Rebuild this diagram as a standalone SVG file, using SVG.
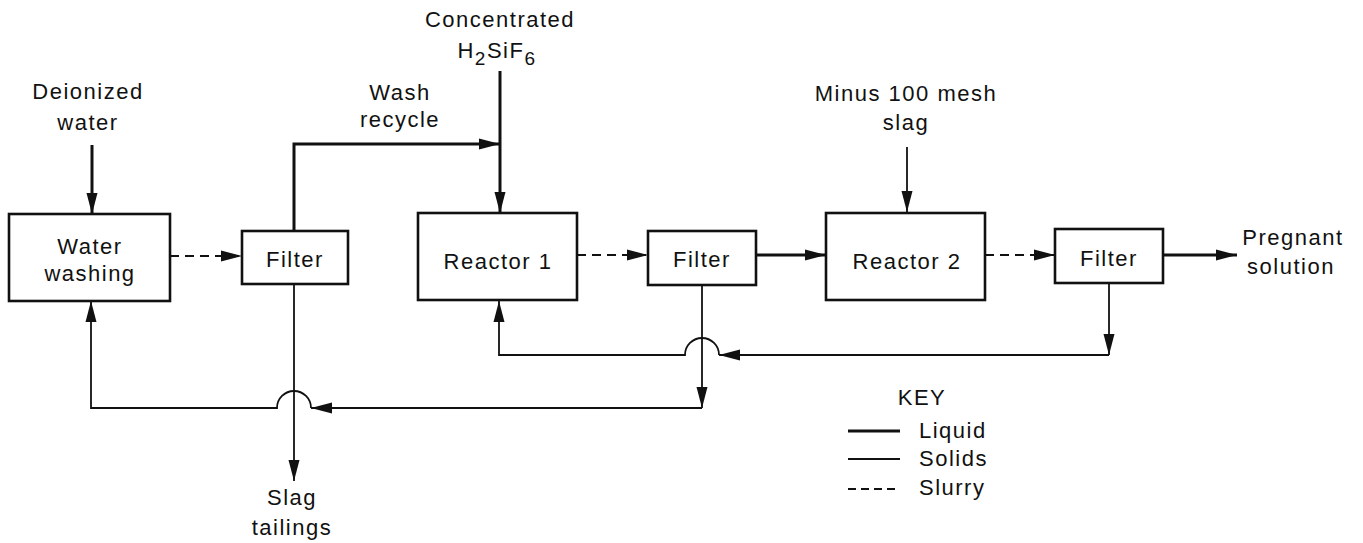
<svg xmlns="http://www.w3.org/2000/svg" width="1363" height="543" viewBox="0 0 1363 543">
<style>
text{font-family:"Liberation Sans",Arial,sans-serif;font-size:22px;letter-spacing:1.5px;fill:#111;text-anchor:middle}
.box{fill:#fff;stroke:#111;stroke-width:2.6}
.liq{fill:none;stroke:#111;stroke-width:3}
.sol{fill:none;stroke:#111;stroke-width:1.8}
.slu{fill:none;stroke:#111;stroke-width:2;stroke-dasharray:9 6}
.arr{marker-end:url(#ah)}
.sub{font-size:19px}
</style>
<defs>
<marker id="ah" markerUnits="userSpaceOnUse" markerWidth="22" markerHeight="12" refX="21" refY="6" orient="auto">
<path d="M0,0.5 L21,6 L0,11.5 Z" fill="#111"/>
</marker>
</defs>
<rect width="1363" height="543" fill="#fff"/>

<g id="connectors">
<path class="liq arr" d="M92,145 V214"/>
<path class="liq arr" d="M500,71 V213"/>
<path class="liq arr" d="M294,231 V144 H500"/>
<path class="sol arr" d="M907,147 V212"/>
<path class="slu arr" d="M170,256 H242"/>
<path class="slu arr" d="M577,255 H648"/>
<path class="liq arr" d="M756,255 H826"/>
<path class="slu arr" d="M985,255 H1055"/>
<path class="liq arr" d="M1163,255 H1237"/>
<path class="sol arr" d="M1109,284 V355"/>
<path class="sol arr" d="M1109,355 H719"/>
<path class="sol arr" d="M719,355 A17,17 0 0 0 685,355 H499 V301"/>
<path class="sol arr" d="M702,285 V408"/>
<path class="sol arr" d="M702,408 H311"/>
<path class="sol arr" d="M311,408 A17,17 0 0 0 277,408 H91 V301"/>
<path class="sol arr" d="M294,284 V481"/>
</g>

<g id="water-washing">
<rect class="box" x="9" y="214" width="161" height="87"/>
<text x="90" y="254">Water</text>
<text x="90" y="281">washing</text>
</g>
<g id="filter-1">
<rect class="box" x="242" y="231" width="106" height="53"/>
<text x="295" y="267">Filter</text>
</g>
<g id="reactor-1">
<rect class="box" x="418" y="213" width="159" height="87"/>
<text x="498" y="269">Reactor 1</text>
</g>
<g id="filter-2">
<rect class="box" x="648" y="231" width="108" height="54"/>
<text x="702" y="267">Filter</text>
</g>
<g id="reactor-2">
<rect class="box" x="826" y="213" width="159" height="87"/>
<text x="907" y="269">Reactor 2</text>
</g>
<g id="filter-3">
<rect class="box" x="1055" y="229" width="108" height="54"/>
<text x="1109" y="266">Filter</text>
</g>

<g id="label-deionized">
<text x="88" y="99">Deionized</text>
<text x="88" y="130">water</text>
</g>
<g id="label-concentrated">
<text x="500" y="27">Concentrated</text>
<text x="497" y="58">H<tspan class="sub" dy="7">2</tspan><tspan dy="-7">SiF</tspan><tspan class="sub" dy="7">6</tspan></text>
</g>
<g id="label-wash">
<text x="400" y="100">Wash</text>
<text x="400" y="127">recycle</text>
</g>
<g id="label-minus">
<text x="906" y="101">Minus 100 mesh</text>
<text x="906" y="130">slag</text>
</g>
<g id="label-pregnant">
<text x="1293" y="245">Pregnant</text>
<text x="1291" y="274">solution</text>
</g>
<g id="label-slag">
<text x="292" y="505">Slag</text>
<text x="292" y="535">tailings</text>
</g>

<g id="key">
<text x="922" y="405">KEY</text>
<line class="liq" x1="848" y1="431" x2="900" y2="431"/>
<line class="sol" x1="848" y1="459" x2="900" y2="459"/>
<line class="slu" x1="848" y1="489" x2="900" y2="489" style="stroke-dasharray:8 5"/>
<text x="919" y="438" style="text-anchor:start">Liquid</text>
<text x="919" y="466" style="text-anchor:start">Solids</text>
<text x="919" y="495" style="text-anchor:start">Slurry</text>
</g>
</svg>
